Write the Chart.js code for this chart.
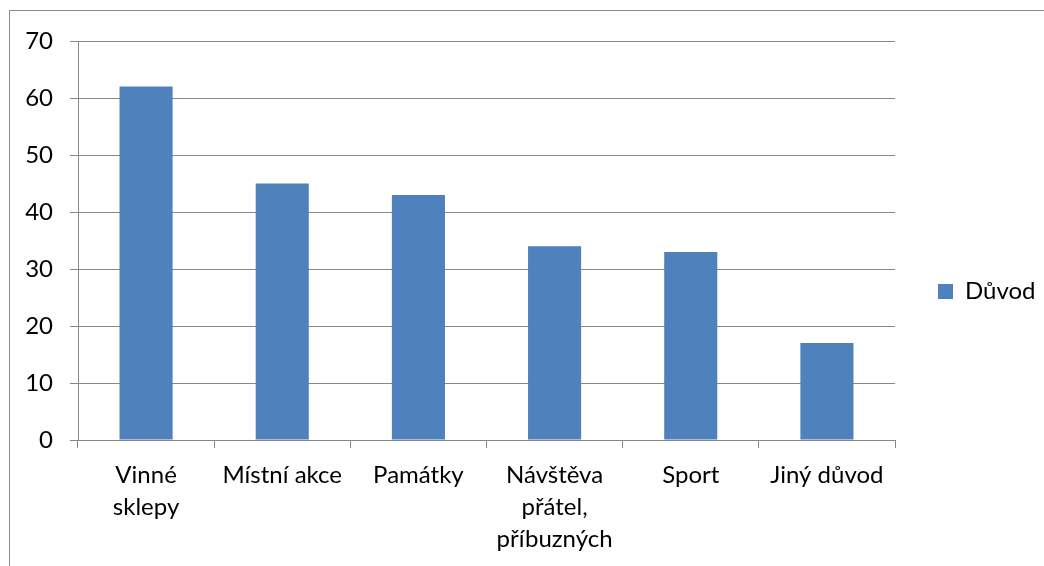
<!DOCTYPE html>
<html>
<head>
<meta charset="utf-8">
<script src="https://cdn.jsdelivr.net/npm/chart.js@4/dist/chart.umd.min.js"></script>
<style>
  html, body { margin: 0; padding: 0; background: #fff; overflow: hidden; }
  canvas { display: block; }
</style>
</head>
<body>
<canvas id="c" width="1044" height="566"></canvas>
<script>
const categories = [['Vinné', 'sklepy'], 'Místní akce', 'Památky', ['Návštěva', 'přátel,', 'příbuzných'], 'Sport', 'Jiný důvod'];
const seriesName = 'Důvod';
const values = [62, 45, 43, 34, 33, 17];
const yTicks = [0, 10, 20, 30, 40, 50, 60, 70];

const FONT = 'Lato';
const GRAY = '#878787';

const frame = {
  id: 'frame',
  beforeDraw(chart) {
    const ctx = chart.ctx;
    ctx.save();
    ctx.fillStyle = '#ffffff';
    ctx.fillRect(0, 0, chart.width, chart.height);
    ctx.strokeStyle = '#8c8c8c';
    ctx.lineWidth = 1;
    ctx.strokeRect(9.5, 10.5, chart.width + 20, chart.height + 20);
    ctx.restore();
  }
};

const legendWidth = {
  id: 'legendWidth',
  afterInit(chart) {
    const lg = chart.legend;
    if (!lg) return;
    const orig = lg.fit.bind(lg);
    lg.fit = function () { orig(); this.width = 149; };
  }
};

new Chart(document.getElementById('c'), {
  type: 'bar',
  data: {
    labels: categories,
    datasets: [{
      label: seriesName,
      data: values,
      backgroundColor: '#4F81BD',
      borderWidth: 0,
      barPercentage: 0.39,
      categoryPercentage: 1.0
    }]
  },
  options: {
    responsive: false,
    animation: false,
    devicePixelRatio: 1,
    layout: { padding: { top: 41, bottom: 0, left: 0, right: 0 } },
    plugins: {
      legend: {
        position: 'right',
        align: 'start',
        title: {
          display: true,
          text: '',
          font: { family: FONT, size: 10, lineHeight: 1.2 },
          padding: { top: 0, bottom: 183.5 }
        },
        labels: {
          boxWidth: 15,
          boxHeight: 15,
          padding: 43,
          color: '#000',
          font: { family: FONT, size: 24 }
        }
      },
      tooltip: { enabled: false }
    },
    scales: {
      x: {
        afterFit(scale) { scale.height = 126; },
        grid: {
          display: true,
          drawOnChartArea: false,
          drawTicks: true,
          tickLength: 8,
          color: GRAY,
          offset: true
        },
        border: { display: true, color: GRAY, width: 1 },
        ticks: {
          autoSkip: false,
          maxRotation: 0,
          minRotation: 0,
          padding: 11,
          color: '#000',
          font: { family: FONT, size: 24, lineHeight: 1.333 }
        }
      },
      y: {
        min: 0,
        max: 70,
        afterFit(scale) { scale.width = 78; },
        afterBuildTicks(scale) { scale.ticks = yTicks.map(v => ({ value: v })); },
        grid: {
          color: GRAY,
          lineWidth: 1,
          tickLength: 8,
          drawTicks: true
        },
        border: { display: true, color: GRAY, width: 1 },
        ticks: {
          padding: 17,
          color: '#000',
          font: { family: FONT, size: 24 }
        }
      }
    }
  },
  plugins: [frame, legendWidth]
});
</script>
</body>
</html>
